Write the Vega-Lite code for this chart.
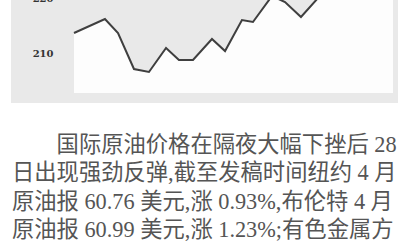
{
  "$schema": "https://vega.github.io/schema/vega-lite/v6.json",
  "width": 387,
  "height": 103,
  "autosize": {"type": "none"},
  "padding": {"left": 11, "top": 0, "right": 8, "bottom": 147},
  "background": "white",
  "config": {"view": {"fill": "#e9e9e9", "stroke": null}},
  "title": {
    "text": [
      "\u200b\u3000\u3000国际原油价格在隔夜大幅下挫后 28",
      "日出现强劲反弹,截至发稿时间纽约 4 月",
      "原油报 60.76 美元,涨 0.93%,布伦特 4 月",
      "原油报 60.99 美元,涨 1.23%;有色金属方"
    ],
    "orient": "bottom",
    "anchor": "start",
    "frame": "group",
    "offset": 49,
    "baseline": "alphabetic",
    "fontSize": 22.3,
    "lineHeight": 28.4,
    "font": "'Liberation Serif', 'Noto Sans CJK SC'",
    "fontWeight": "normal",
    "color": "#555555",
    "dx": 1
  },
  "data": {
    "values": [
      {"day": 0, "price": 213.64},
      {"day": 1.94, "price": 216.18},
      {"day": 2.76, "price": 213.64},
      {"day": 3.76, "price": 207.09},
      {"day": 4.7, "price": 206.55},
      {"day": 5.77, "price": 210.91},
      {"day": 6.58, "price": 208.73},
      {"day": 7.46, "price": 208.73},
      {"day": 8.65, "price": 212.55},
      {"day": 9.47, "price": 210.36},
      {"day": 10.53, "price": 216.0},
      {"day": 11.22, "price": 215.64},
      {"day": 12.41, "price": 220.36},
      {"day": 13.23, "price": 219.27},
      {"day": 14.23, "price": 216.55},
      {"day": 15.3, "price": 220.0},
      {"day": 16.36, "price": 222.36},
      {"day": 17.43, "price": 221.09},
      {"day": 18.43, "price": 223.64},
      {"day": 20, "price": 224.73}
    ]
  },
  "encoding": {
    "x": {
      "field": "day",
      "type": "quantitative",
      "scale": {"domain": [0, 20], "range": [63, 382], "nice": false, "zero": false},
      "axis": null
    },
    "y": {
      "field": "price",
      "type": "quantitative",
      "scale": {"domain": [202.73, 220], "range": [93, -2], "nice": false, "zero": false},
      "axis": {
        "values": [210, 220],
        "title": null,
        "domain": false,
        "ticks": false,
        "tickSize": 0,
        "grid": false,
        "labelPadding": 0,
        "offset": -42,
        "labelFont": "DejaVu Serif",
        "labelFontWeight": "bold",
        "labelFontSize": 10,
        "labelColor": "#333333"
      }
    }
  },
  "layer": [
    {
      "mark": {"type": "area", "color": "#fdfdfd", "opacity": 1, "clip": true},
      "encoding": {"y2": {"datum": 202.73}}
    },
    {
      "mark": {"type": "line", "color": "#3f3f3f", "strokeWidth": 2, "clip": true},
      "encoding": {}
    }
  ]
}
